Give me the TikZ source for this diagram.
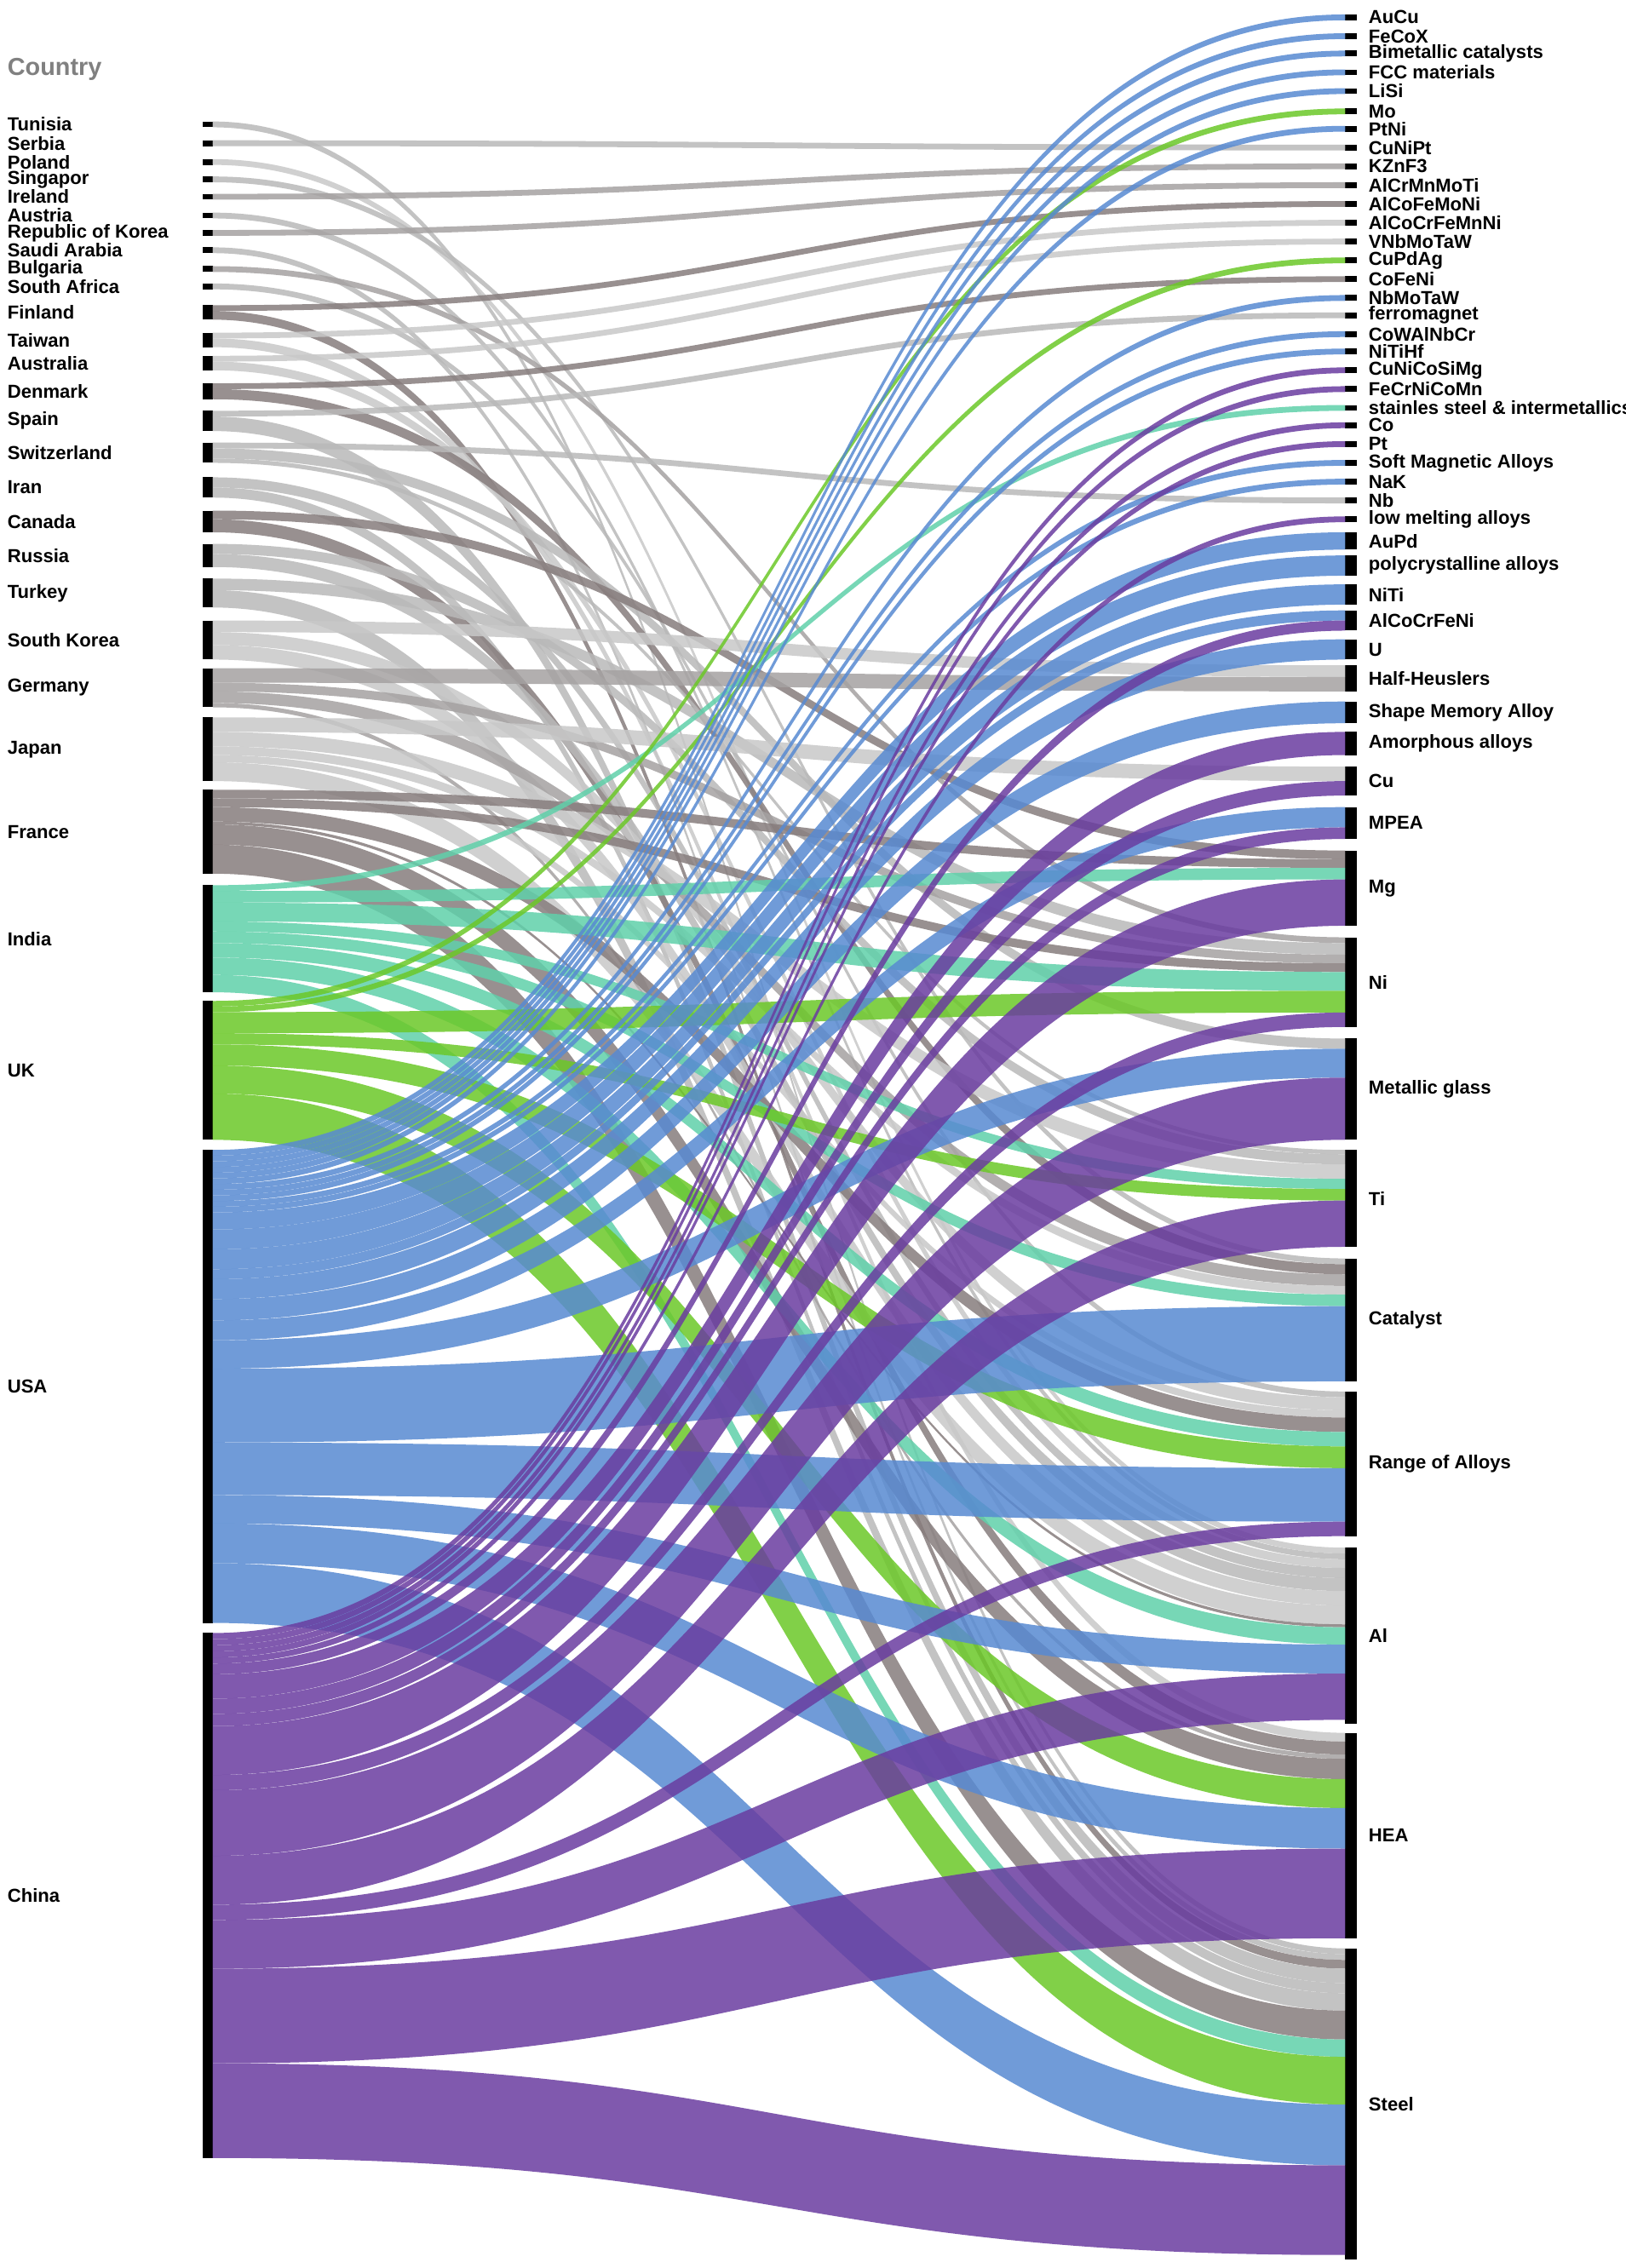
\documentclass[tikz,border=0pt]{standalone}
\usepackage{fontspec}
\setmainfont{Liberation Sans}
\newcommand\setcur[2]{\expandafter\xdef\csname cur#1\endcsname{#2}}
\newcommand\getcur[1]{\csname cur#1\endcsname}
\def\ks{1}
\newcommand\flow[4]{%
 \pgfmathsetmacro\sa{\getcur{#1}}%
 \pgfmathsetmacro\ta{\getcur{#2}}%
 \pgfmathsetmacro\sb{\sa+#3*\ks}%
 \pgfmathsetmacro\tb{\ta+#3}%
 \fill[#4,fill opacity=0.85] (147,\sa) .. controls (538,\sa) and (538,\ta) .. (930,\ta) -- (930,\tb) .. controls (538,\tb) and (538,\sb) .. (147,\sb) -- cycle;
 \setcur{#1}{\sb}\setcur{#2}{\tb}}
\newcommand\cty[4]{\fill (140,#3) rectangle (147,#4); \node[lbl] (c#2) at (5,{(#3+#4)/2}) {#1}; \setcur{#2}{#3}}
\newcommand\mat[4]{\fill (930,#3) rectangle (938,#4); \node[lbl] (m#2) at (946,{(#3+#4)/2}) {#1}; \setcur{#2}{#3}}
\begin{document}
\begin{tikzpicture}[x=1pt,y=-1pt,
 lbl/.style={font=\fontsize{13}{13}\selectfont\bfseries,inner sep=0pt,anchor=west}]
\definecolor{pu}{RGB}{106,61,160}
\definecolor{bl}{RGB}{88,138,210}
\definecolor{gr}{RGB}{108,200,40}
\definecolor{te}{RGB}{96,208,170}
\definecolor{ga}{RGB}{185,185,185}
\definecolor{gb}{RGB}{165,162,162}
\definecolor{gc}{RGB}{135,125,125}
\definecolor{gd}{RGB}{200,200,200}
\useasboundingbox (0,0) rectangle (1124,1568);
\fill[white] (0,0) rectangle (1124,1568);
\node[lbl,text=gray,font=\fontsize{17}{17}\selectfont\bfseries] (hdr) at (5,48) {Country};
% countries
\cty{Tunisia}{tun}{84}{88}
\cty{Serbia}{ser}{97}{101}
\cty{Poland}{pol}{110}{114}
\cty{Singapor}{sin}{122}{126}
\cty{Ireland}{ire}{134}{138}
\cty{Austria}{aus}{147}{151}
\cty{Republic of Korea}{rok}{159}{163}
\cty{Saudi Arabia}{sau}{171}{175}
\cty{Bulgaria}{bul}{184}{188}
\cty{South Africa}{saf}{196}{200}
\cty{Finland}{fin}{211}{221}
\cty{Taiwan}{tai}{230}{240}
\cty{Australia}{aul}{246}{256}
\cty{Denmark}{den}{265}{276}
\cty{Spain}{spa}{284}{298}
\cty{Switzerland}{swi}{306}{320}
\cty{Iran}{ira}{330}{344}
\cty{Canada}{can}{353}{368}
\cty{Russia}{rus}{376}{392}
\cty{Turkey}{tur}{400}{420}
\cty{South Korea}{sko}{429}{456}
\cty{Germany}{ger}{462}{489}
\cty{Japan}{jap}{496}{540}
\cty{France}{fra}{546}{604}
\cty{India}{ind}{612}{686}
\cty{UK}{uk}{692}{788}
\cty{USA}{usa}{795}{1122}
\cty{China}{chi}{1129}{1492}
% materials
\mat{AuCu}{aucu}{10}{14}
\mat{FeCoX}{fecox}{23}{27}
\mat{Bimetallic catalysts}{bim}{35}{39}
\mat{FCC materials}{fcc}{48}{52}
\mat{LiSi}{lisi}{61}{65}
\mat{Mo}{mo}{75}{79}
\mat{PtNi}{ptni}{87}{91}
\mat{CuNiPt}{cunipt}{100}{104}
\mat{KZnF3}{kznf}{113}{117}
\mat{AlCrMnMoTi}{alcrmn}{126}{130}
\mat{AlCoFeMoNi}{alcofe}{139}{143}
\mat{AlCoCrFeMnNi}{alcocrmn}{152}{156}
\mat{VNbMoTaW}{vnb}{165}{169}
\mat{CuPdAg}{cupdag}{178}{182}
\mat{CoFeNi}{cofeni}{191}{195}
\mat{NbMoTaW}{nbmo}{204}{208}
\mat{ferromagnet}{ferro}{216}{220}
\mat{CoWAlNbCr}{cowal}{229}{233}
\mat{NiTiHf}{nitihf}{241}{245}
\mat{CuNiCoSiMg}{cunico}{254}{258}
\mat{FeCrNiCoMn}{fecrni}{267}{271}
\mat{stainles steel \& intermetallics}{stain}{280}{284}
\mat{Co}{co}{292}{296}
\mat{Pt}{pt}{305}{309}
\mat{Soft Magnetic Alloys}{soft}{318}{322}
\mat{NaK}{nak}{331}{335}
\mat{Nb}{nb}{344}{348}
\mat{low melting alloys}{lowm}{357}{361}
\mat{AuPd}{aupd}{368}{380}
\mat{polycrystalline alloys}{poly}{384}{398}
\mat{NiTi}{niti}{404}{418}
\mat{AlCoCrFeNi}{acfn}{422}{436}
\mat{U}{u}{442}{456}
\mat{Half-Heuslers}{half}{460}{478}
\mat{Shape Memory Alloy}{shape}{485}{500}
\mat{Amorphous alloys}{amor}{506}{522}
\mat{Cu}{cu}{530}{550}
\mat{MPEA}{mpea}{558}{580}
\mat{Mg}{mg}{588}{640}
\mat{Ni}{ni}{648}{710}
\mat{Metallic glass}{mgl}{718}{788}
\mat{Ti}{ti}{795}{862}
\mat{Catalyst}{cat}{870}{955}
\mat{Range of Alloys}{range}{962}{1062}
\mat{Al}{al}{1070}{1192}
\mat{HEA}{hea}{1198}{1340}
\mat{Steel}{steel}{1347}{1562}
% flows: gray countries
\flow{tun}{steel}{4}{ga}
\flow{ser}{cunipt}{4}{ga}
\flow{pol}{al}{4}{gd}
\flow{sin}{cat}{4}{ga}
\flow{ire}{kznf}{4}{gb}
\flow{aus}{al}{4}{ga}
\flow{rok}{alcrmn}{4}{gb}
\flow{sau}{steel}{4}{ga}
\flow{bul}{ni}{4}{gb}
\flow{saf}{range}{4}{ga}
\flow{fin}{alcofe}{4}{gc}
\flow{fin}{steel}{6}{gc}
\flow{tai}{alcocrmn}{4}{gd}
\flow{tai}{hea}{6}{gd}
\flow{aul}{vnb}{4}{gd}
\flow{aul}{al}{6}{gd}
\flow{den}{cofeni}{4}{gc}
\flow{den}{cat}{7}{gc}
\flow{spa}{ferro}{4}{ga}
\flow{spa}{steel}{10}{ga}
\flow{swi}{nb}{4}{ga}
\flow{swi}{mgl}{7}{ga}
\flow{swi}{ti}{3}{ga}
\flow{ira}{al}{7}{ga}
\flow{ira}{steel}{7}{ga}
\flow{can}{mg}{6}{gc}
\flow{can}{hea}{9}{gc}
\flow{rus}{ti}{7}{ga}
\flow{rus}{al}{9}{ga}
\flow{tur}{ni}{8}{ga}
\flow{tur}{steel}{12}{ga}
\flow{sko}{half}{8}{gd}
\flow{sko}{range}{9}{gd}
\flow{sko}{al}{10}{gd}
\flow{ger}{half}{10}{gb}
\flow{ger}{ni}{6}{gb}
\flow{ger}{cat}{8}{gb}
\flow{ger}{hea}{3}{gb}
\flow{jap}{cu}{10}{gd}
\flow{jap}{ti}{10}{gd}
\flow{jap}{cat}{6}{gd}
\flow{jap}{range}{5}{gd}
\flow{jap}{al}{13}{gd}
\flow{fra}{mg}{6}{gc}
\flow{fra}{ni}{6}{gc}
\flow{fra}{range}{10}{gc}
\flow{fra}{al}{2}{gc}
\flow{fra}{hea}{14}{gc}
\flow{fra}{steel}{20}{gc}
% India
\flow{ind}{stain}{4}{te}
\flow{ind}{mg}{8}{te}
\flow{ind}{ni}{13}{te}
\flow{ind}{ti}{7}{te}
\flow{ind}{cat}{8}{te}
\flow{ind}{range}{10}{te}
\flow{ind}{al}{12}{te}
\flow{ind}{steel}{12}{te}
% UK
\def\ks{0.97}
\flow{uk}{mo}{4}{gr}
\flow{uk}{cupdag}{4}{gr}
\flow{uk}{ni}{15}{gr}
\flow{uk}{ti}{8}{gr}
\flow{uk}{range}{15}{gr}
\flow{uk}{hea}{20}{gr}
\flow{uk}{steel}{33}{gr}
% USA
\def\ks{0.982}
\flow{usa}{aucu}{4}{bl}
\flow{usa}{fecox}{4}{bl}
\flow{usa}{bim}{4}{bl}
\flow{usa}{fcc}{4}{bl}
\flow{usa}{lisi}{4}{bl}
\flow{usa}{ptni}{4}{bl}
\flow{usa}{nbmo}{4}{bl}
\flow{usa}{cowal}{4}{bl}
\flow{usa}{nitihf}{4}{bl}
\flow{usa}{soft}{4}{bl}
\flow{usa}{nak}{4}{bl}
\flow{usa}{aupd}{12}{bl}
\flow{usa}{poly}{14}{bl}
\flow{usa}{niti}{14}{bl}
\flow{usa}{acfn}{7}{bl}
\flow{usa}{u}{14}{bl}
\flow{usa}{shape}{15}{bl}
\flow{usa}{mpea}{14}{bl}
\flow{usa}{mgl}{20}{bl}
\flow{usa}{cat}{52}{bl}
\flow{usa}{range}{37}{bl}
\flow{usa}{al}{20}{bl}
\flow{usa}{hea}{28}{bl}
\flow{usa}{steel}{42}{bl}
% China
\def\ks{1.055}
\flow{chi}{cunico}{4}{pu}
\flow{chi}{fecrni}{4}{pu}
\flow{chi}{co}{4}{pu}
\flow{chi}{pt}{4}{pu}
\flow{chi}{lowm}{4}{pu}
\flow{chi}{acfn}{7}{pu}
\flow{chi}{amor}{16}{pu}
\flow{chi}{cu}{10}{pu}
\flow{chi}{mpea}{8}{pu}
\flow{chi}{mg}{32}{pu}
\flow{chi}{ni}{10}{pu}
\flow{chi}{mgl}{43}{pu}
\flow{chi}{ti}{32}{pu}
\flow{chi}{range}{10}{pu}
\flow{chi}{al}{32}{pu}
\flow{chi}{hea}{62}{pu}
\flow{chi}{steel}{62}{pu}
\end{tikzpicture}
\end{document}
